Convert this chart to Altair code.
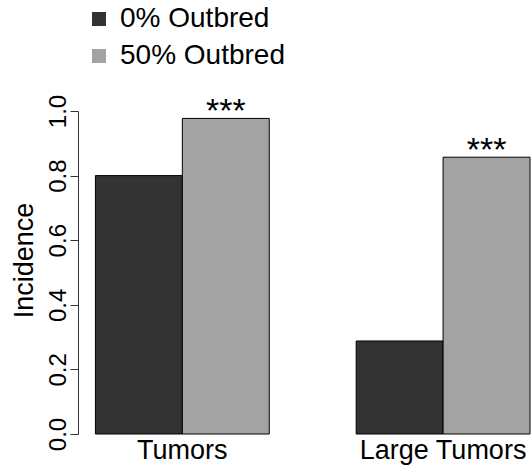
import altair as alt
import pandas as pd

categories = ["Tumors", "Large Tumors"]
series = ["0% Outbred", "50% Outbred"]
values_0 = [0.80, 0.288]
values_50 = [0.977, 0.857]
sig_0 = ["", ""]
sig_50 = ["***", "***"]
colors = ["#333333", "#a3a3a3"]
y_ticks = [0.0, 0.2, 0.4, 0.6, 0.8, 1.0]

rows = []
for i, c in enumerate(categories):
    rows.append({"category": c, "series": series[0], "value": values_0[i], "sig": sig_0[i]})
    rows.append({"category": c, "series": series[1], "value": values_50[i], "sig": sig_50[i]})
df = pd.DataFrame(rows)

FONT = "Liberation Sans"

base = alt.Chart(df).encode(
    x=alt.X(
        "category:N",
        sort=categories,
        scale=alt.Scale(paddingInner=1 / 3, paddingOuter=0.0334, align=1),
        axis=alt.Axis(
            title=None, domain=False, ticks=False, labelAngle=0,
            labelFont=FONT, labelFontSize=27, labelColor="black", labelPadding=3,
            labelLimit=400,
        ),
    ),
    xOffset=alt.XOffset("series:N", sort=series, scale=alt.Scale(paddingInner=0, paddingOuter=0)),
    y=alt.Y(
        "value:Q",
        scale=alt.Scale(domain=[0, 1], nice=False, zero=True),
        axis=alt.Axis(
            values=y_ticks, format=".1f", grid=False,
            labelAngle=270, labelAlign="center", labelBaseline="alphabetic",
            labelPadding=5, tickSize=8, tickColor="#333333", domainColor="#333333",
            labelFont=FONT, labelFontSize=24, labelColor="black",
            title="Incidence", titleFont=FONT, titleFontSize=27, titleFontWeight="normal",
            titleColor="black", titleAngle=270, titleX=-46, titleY=149,
            titleAlign="center", titleBaseline="alphabetic",
        ),
    ),
)

bars = base.mark_bar(stroke="black", strokeWidth=1).encode(
    color=alt.Color(
        "series:N",
        sort=series,
        scale=alt.Scale(domain=series, range=colors),
        legend=alt.Legend(
            title=None, orient="none", legendX=7, legendY=-106, padding=0,
            symbolType="square", symbolSize=196, symbolStrokeWidth=0,
            labelFont=FONT, labelFontSize=28, labelColor="black", labelOffset=7,
            labelLimit=400, rowPadding=9, symbolOpacity=1,
        ),
    )
)

text = base.mark_text(baseline="alphabetic", dy=4, fontSize=34, font=FONT, color="black").encode(
    text="sig:N"
)

chart = (
    alt.layer(bars, text)
    .properties(
        width=452, height=323,
        autosize=alt.AutoSizeParams(type="none"),
        padding={"left": 78, "top": 111, "right": 2, "bottom": 37},
        background="white",
    )
    .configure_view(stroke=None)
)

chart.save("out.html", embed_options={"renderer": "svg", "actions": False})
